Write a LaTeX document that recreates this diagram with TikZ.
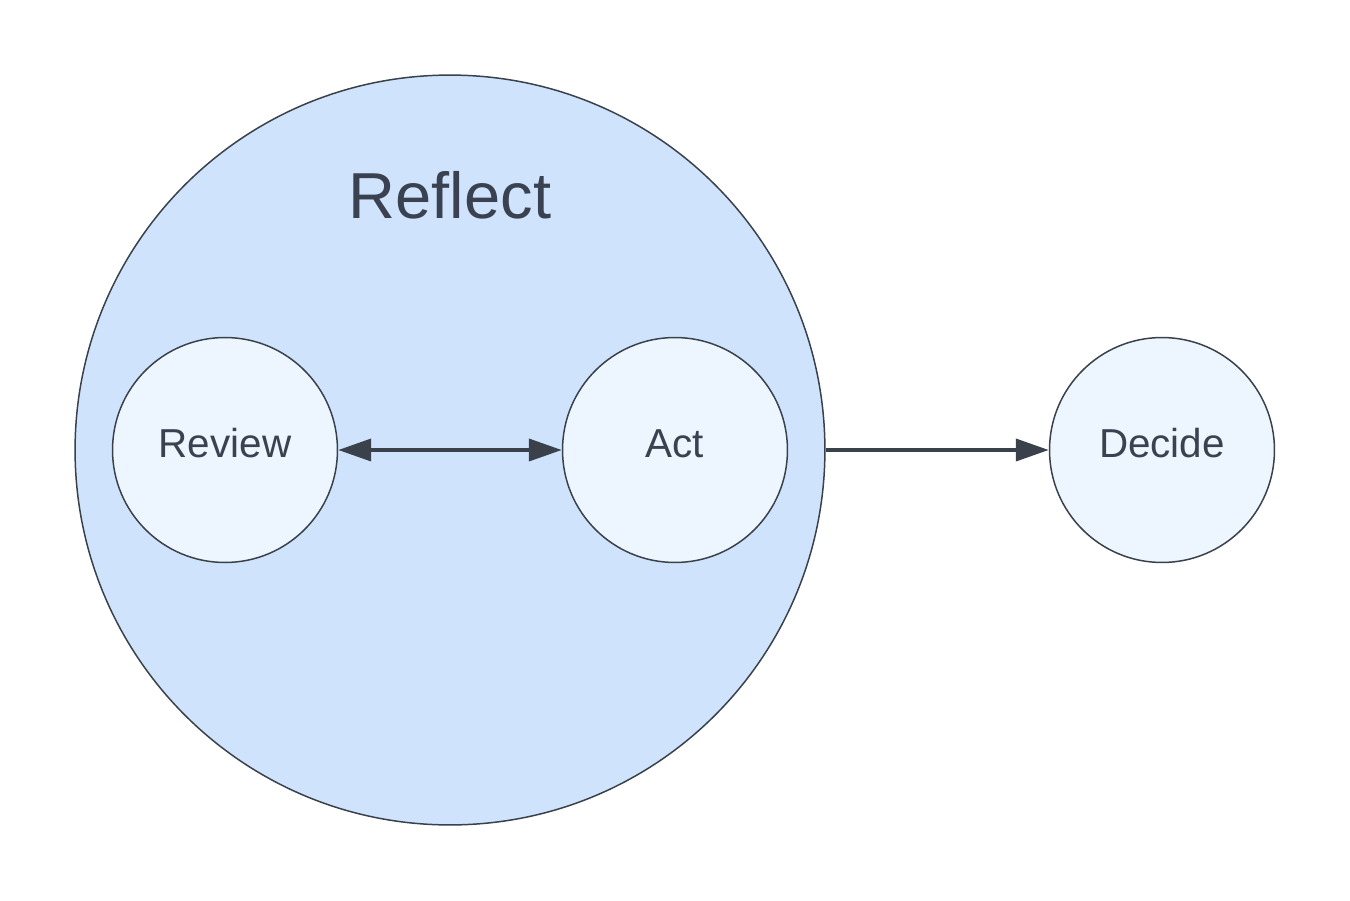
\documentclass[tikz,border=0pt]{standalone}
\usepackage{fontspec}
\setmainfont{Liberation Sans}
\usetikzlibrary{arrows.meta}
\definecolor{strokec}{HTML}{3A414A}
\definecolor{textc}{HTML}{3A4150}
\definecolor{bigfill}{HTML}{CFE4FC}
\definecolor{smallfill}{HTML}{EDF5FF}
\tikzset{
  bigcircle/.style={circle, draw=strokec, line width=0.85pt, fill=bigfill, minimum size=15cm, inner sep=0pt},
  smallcircle/.style={circle, draw=strokec, line width=0.85pt, fill=smallfill, minimum size=4.5cm, inner sep=0pt, text=textc, font=\fontsize{23}{27}\selectfont, text height=0.6cm, text depth=0.3cm},
  conn/.style={draw=strokec, line width=2.2pt, -{Triangle[length=0.66cm,width=0.44cm]}},
  biconn/.style={draw=strokec, line width=2.2pt, {Triangle[length=0.66cm,width=0.44cm]}-{Triangle[length=0.66cm,width=0.44cm]}},
}
\begin{document}
\begin{tikzpicture}[x=0.02cm,y=-0.02cm]
\useasboundingbox (0,0) rectangle (1350,900);
\fill[white] (0,0) rectangle (1350,900);
\node[bigcircle] (reflect) at (450,450) {};
\node[text=textc, font=\fontsize{37}{44}\selectfont] (title) at (450,195) {Reflect};
\node[smallcircle] (review) at (225,450) {Review};
\node[smallcircle] (act) at (675,450) {Act};
\node[smallcircle] (decide) at (1162,450) {Decide};
\draw[biconn] (review) -- (act);
\draw[conn] (reflect.east) -- (decide.west);
\end{tikzpicture}
\end{document}
